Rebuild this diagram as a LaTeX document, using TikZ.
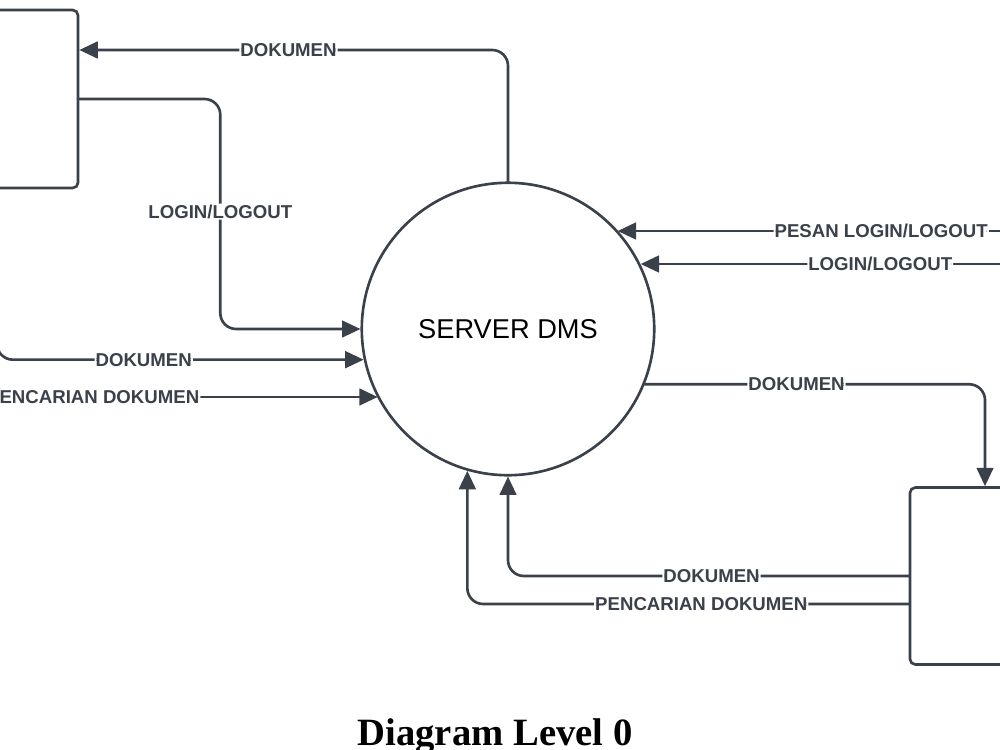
\documentclass[tikz,border=0pt]{standalone}
\usepackage{fontspec}
\setmainfont{Liberation Serif}
\newfontfamily\arialfont{Liberation Sans}
\usetikzlibrary{arrows.meta}
\definecolor{lineclr}{HTML}{3A414A}

\begin{document}
\begin{tikzpicture}[x=0.02cm,y=-0.02cm,line cap=round,
  flow/.style={draw=lineclr,line width=1.5pt,rounded corners=9pt,-{Triangle[length=10.5pt,width=9.5pt]}},
  lbl/.style={fill=white,inner sep=0.6pt,text=lineclr,font=\arialfont\bfseries\fontsize{10.6}{12}\selectfont},
  entity/.style={draw=lineclr,line width=1.5pt,rounded corners=3pt}]
  \useasboundingbox (0,0) rectangle (1000,750);
  \node[circle,draw=lineclr,line width=1.5pt,minimum size=5.85cm,
    font=\arialfont\fontsize{15.5}{18}\selectfont] (server) at (508,329) {SERVER DMS};
  \node[entity,minimum width=2.8cm,minimum height=3.56cm] (user) at (8,99) {};
  \node[entity,minimum width=3cm,minimum height=3.54cm] (store) at (985,576) {};
  \coordinate (srcL1) at (-3,300);
  \coordinate (srcL2) at (-60,397);
  \coordinate (srcR1) at (1040,231);
  \coordinate (srcR2) at (1040,264);
  \draw[flow] (server.north) |- node[lbl,pos=0.756]{DOKUMEN} (user.east |- 0,50);
  \draw[flow] (user.east) -- ++(141,0) |- node[lbl,pos=0.245]{LOGIN/LOGOUT} (server.west);
  \draw[flow] (srcL1) |- node[lbl,pos=0.7]{DOKUMEN} (server.192.7);
  \draw[flow] (srcL2) -- node[lbl,pos=0.35]{PENCARIAN DOKUMEN} (srcL2 -| server.208);
  \draw[flow] (srcR1) -- node[lbl,pos=0.376]{PESAN LOGIN/LOGOUT} (srcR1 -| server.42.5);
  \draw[flow] (srcR2) -- node[lbl,pos=0.40]{LOGIN/LOGOUT} (srcR2 -| server.26.6);
  \draw[flow] (server.-22.7) -| node[lbl,pos=0.223]{DOKUMEN} (store.north);
  \draw[flow] (store.west) -| node[lbl,pos=0.246]{DOKUMEN} (server.south);
  \draw[flow] (store.west |- 0,604) -| node[lbl,pos=0.235]{PENCARIAN DOKUMEN} (server.254);
  \node[anchor=base,font=\bfseries\fontsize{22}{26}\selectfont] (title) at (495,745) {Diagram Level 0};
\end{tikzpicture}
\end{document}
